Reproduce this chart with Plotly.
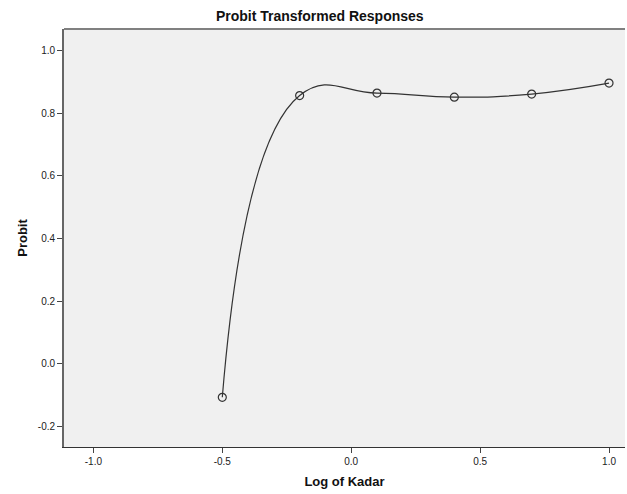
import plotly.graph_objects as go

log_kadar = [-0.5, -0.2, 0.1, 0.4, 0.7, 1.0]
probit = [-0.108, 0.857, 0.865, 0.852, 0.862, 0.897]

x_ticks = [-1.0, -0.5, 0.0, 0.5, 1.0]
x_tick_labels = ["-1.0", "-0.5", "0.0", "0.5", "1.0"]
y_ticks = [-0.2, 0.0, 0.2, 0.4, 0.6, 0.8, 1.0]
y_tick_labels = ["-0.2", "0.0", "0.2", "0.4", "0.6", "0.8", "1.0"]

fig = go.Figure()
fig.add_trace(go.Scatter(
    x=log_kadar, y=probit, mode="lines+markers",
    line=dict(shape="spline", smoothing=1.3, color="#333333", width=1.2),
    marker=dict(symbol="circle-open", size=8, color="#333333", line=dict(width=1.2)),
    showlegend=False, hoverinfo="x+y",
))

fig.update_layout(
    width=627, height=494,
    margin=dict(l=64, r=2, t=29, b=47),
    paper_bgcolor="white", plot_bgcolor="#F0F0F0",
    font=dict(family="Liberation Sans, Arial, sans-serif", size=10, color="#222222"),
    title=dict(text="<b>Probit Transformed Responses</b>", x=0.51, xanchor="center",
               y=1 - 16.5 / 494, yanchor="middle", font=dict(size=14, color="#111111")),
    xaxis=dict(range=[-1.114, 1.062], tickvals=x_ticks, ticktext=x_tick_labels,
               showgrid=False, zeroline=False, showline=True, linecolor="#333333", linewidth=1.2,
               ticks="outside", ticklen=5, tickcolor="#444444", mirror=False,
               title=dict(text="<b>Log of Kadar</b>", font=dict(size=13, color="#111111"), standoff=10)),
    yaxis=dict(range=[-0.267, 1.07], tickvals=y_ticks, ticktext=y_tick_labels,
               showgrid=False, zeroline=False, showline=True, linecolor="#666666", linewidth=1.8,
               ticks="outside", ticklen=5, tickcolor="#444444",
               title=dict(text="<b>Probit</b>", font=dict(size=13, color="#111111"), standoff=7)),
)
fig.add_shape(type="line", xref="paper", yref="paper", x0=0, x1=1, y0=1, y1=1,
              line=dict(color="#808080", width=2))

fig.write_html("out.html", config={"displayModeBar": False},
               post_script="document.body.style.margin='0';document.body.style.padding='0';")
